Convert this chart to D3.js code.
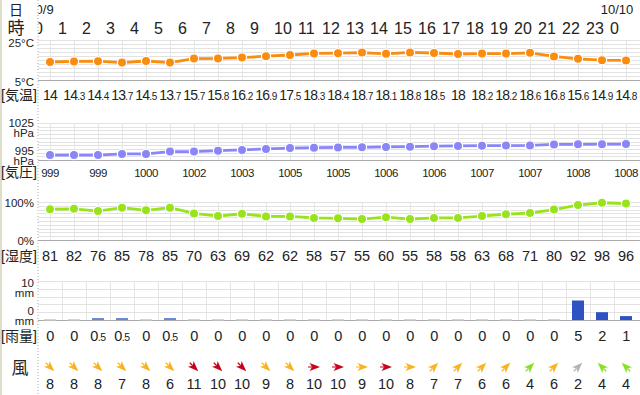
<!DOCTYPE html>
<html>
<head>
<meta charset="utf-8">
<script src="https://cdn.jsdelivr.net/npm/d3@7"></script>
<style>
body { margin: 0; background: #fff; }
text { font-family: "Liberation Sans", "Noto Sans CJK JP", sans-serif; fill: #222; }
</style>
</head>
<body>
<div id="chart"></div>
<script>
// hourly forecast, 10/9 0時 .. 10/10 0時
const hours = [0,1,2,3,4,5,6,7,8,9,10,11,12,13,14,15,16,17,18,19,20,21,22,23,0];
const dates = [{col: 0, label: "10/9"}, {col: 24, label: "10/10"}];
const temps = [14,14.3,14.4,13.7,14.5,13.7,15.7,15.8,16.2,16.9,17.5,18.3,18.4,18.7,18.1,18.8,18.5,18,18.2,18.2,18.6,16.8,15.6,14.9,14.8];
const pressures = [999,999,999,999.9,999.9,1001.8,1001.8,1002.6,1003.2,1004,1004.7,1005,1005.2,1005.3,1005.6,1005.8,1006.2,1006.4,1006.6,1006.7,1006.8,1007.6,1007.7,1007.8,1007.9];
const humidity = [81,82,76,85,78,85,70,63,69,62,62,58,57,55,60,55,58,58,63,68,71,80,92,98,96];
const rain = [0,0,0.5,0.5,0,0.5,0,0,0,0,0,0,0,0,0,0,0,0,0,0,0,0,5,2,1];
const windSpeed = [8,8,8,7,8,6,11,10,10,9,8,10,10,9,10,8,7,7,6,6,4,6,2,4,4];
const windFrom = ["北西","北西","北西","北西","北西","北西","北西","北西","北西","北西","北西",
                  "西","西","西","西","西",
                  "南西","南西","南西","南西","南西","南西","南西","南東","南東"];

const W = 640, H = 395;
const left = 38;

const svg = d3.select("#chart").append("svg")
  .attr("width", W).attr("height", H);

// scales
const x = d3.scaleLinear().domain([0, 24]).range([50, 626]);
const step = x(1) - x(0);

const yT = d3.scaleLinear().domain([5, 25]).range([80, 40]);
const yP = d3.scaleLinear().domain([995, 1025]).range([160, 123]);
const yH = d3.scaleLinear().domain([0, 100]).range([240, 202]);
const yR = d3.scaleLinear().domain([0, 10]).range([320, 281]);

// left strip + dotted separator
svg.append("rect").attr("x", 0).attr("y", 0).attr("width", 2).attr("height", H).attr("fill", "#deddc9");
svg.append("line")
  .attr("x1", left).attr("x2", left).attr("y1", 0).attr("y2", H)
  .attr("stroke", "#aaa").attr("stroke-dasharray", "1,2");

svg.append("clipPath").attr("id", "plotclip")
  .append("rect").attr("x", left + 0.5).attr("y", 0).attr("width", W - left).attr("height", H);

// header
svg.append("text").attr("x", 16).attr("y", 15).attr("text-anchor", "middle")
  .style("font-size", "14px").text("日");
svg.append("text").attr("x", 16).attr("y", 34).attr("text-anchor", "middle")
  .style("font-size", "17px").text("時");

const head = svg.append("g").attr("clip-path", "url(#plotclip)");
head.selectAll(".date").data(dates).enter().append("text")
  .attr("x", d => x(d.col) - 9).attr("y", 14)
  .attr("text-anchor", "middle").style("font-size", "13px")
  .text(d => d.label);
head.selectAll(".hour").data(hours).enter().append("text")
  .attr("x", (d, i) => x(i) - 16).attr("y", 34)
  .style("font-size", "16px")
  .text(d => d);

// grid for a line panel
function panel(y, tickVals, vertical) {
  const g = svg.append("g");
  const [b, t] = y.range();
  g.selectAll(".v").data(vertical).enter().append("line")
    .attr("x1", d => Math.round(d) + 0.5).attr("x2", d => Math.round(d) + 0.5)
    .attr("y1", t).attr("y2", b)
    .attr("stroke", "#e6e6e6");
  g.selectAll(".h").data(tickVals.slice().reverse()).enter().append("line")
    .attr("x1", left).attr("x2", W)
    .attr("y1", d => Math.round(y(d)) + 0.5).attr("y2", d => Math.round(y(d)) + 0.5)
    .attr("stroke", d => d === tickVals[0] ? "#aaa" : "#e2e2e2");
  return g;
}

function axisLabel(lines, yc) {
  const t = svg.append("text").attr("text-anchor", "end").style("font-size", "11.5px");
  lines.forEach((s, k) => {
    t.append("tspan").attr("x", 34).attr("y", yc + 4 + k * 10).text(s);
  });
}

function rowLabel(s, yc) {
  svg.append("text").attr("x", 19).attr("y", yc + 5).attr("text-anchor", "middle")
    .style("font-size", "14px").text(s);
}

// number with small decimal part
function splitNum(sel, big, small) {
  sel.each(function(v) {
    const s = String(v).split(".");
    const t = d3.select(this).style("font-size", big + "px").style("letter-spacing", "-0.7px");
    t.append("tspan").text(s[0]);
    if (s[1]) t.append("tspan").style("font-size", small + "px").style("letter-spacing", "-0.4px").text("." + s[1]);
  });
}

function series(vals, y, color) {
  const line = d3.line().x((d, i) => x(i)).y(d => y(d));
  svg.append("path").datum(vals)
    .attr("d", line).attr("fill", "none")
    .attr("stroke", color).attr("stroke-width", 2.8);
  svg.append("g").selectAll("circle").data(vals).enter().append("circle")
    .attr("cx", (d, i) => x(i)).attr("cy", d => y(d)).attr("r", 4.6)
    .attr("fill", color).attr("stroke", "#fff").attr("stroke-width", 1.2);
}

const centers = d3.range(25).map(i => x(i));

// temperature
panel(yT, d3.range(5, 26, 2), centers);
series(temps, yT, "#fb8c0e");
axisLabel(["25°C"], 43);
axisLabel(["5°C"], 82);
rowLabel("[気温]", 95);
svg.append("g").selectAll("text").data(temps).enter().append("text")
  .attr("x", (d, i) => x(i)).attr("y", 100).attr("text-anchor", "middle")
  .call(splitNum, 14, 10);

// pressure
panel(yP, d3.range(995, 1026, 3), centers);
series(pressures, yP, "#8a86f8");
axisLabel(["1025", "hPa"], 123);
axisLabel(["995", "hPa"], 151);
rowLabel("[気圧]", 172);
svg.append("g").selectAll("text").data(pressures).enter()
  .filter((d, i) => i % 2 === 0)
  .append("text")
  .attr("x", (d, i) => x(i * 2)).attr("y", 177).attr("text-anchor", "middle")
  .style("font-size", "11.5px").style("letter-spacing", "-0.5px")
  .text(d => Math.round(d));

// humidity
panel(yH, d3.range(0, 101, 10), centers);
series(humidity, yH, "#98e41c");
axisLabel(["100%"], 203);
axisLabel(["0%"], 241);
rowLabel("[湿度]", 256);
svg.append("g").selectAll("text").data(humidity).enter().append("text")
  .attr("x", (d, i) => x(i)).attr("y", 261).attr("text-anchor", "middle")
  .style("font-size", "14.5px").text(d => d);

// rain
const bounds = d3.range(1, 25).map(i => x(i) - step / 2);
panel(yR, d3.range(0, 11, 2), bounds);
svg.append("g").selectAll("rect").data(rain).enter().append("rect")
  .attr("x", (d, i) => x(i) - 6).attr("width", 12)
  .attr("y", d => d > 0 ? yR(d) : yR(0) - 1)
  .attr("height", d => d > 0 ? yR(0) - yR(d) : 1.5)
  .attr("fill", d => d > 0 ? "#2d52c4" : "#d4d4d4")
  .attr("fill-opacity", d => d > 0 && d < 1 ? 0.7 : 1);
axisLabel(["10", "mm"], 283);
axisLabel(["0", "mm"], 311);
rowLabel("[雨量]", 336);
svg.append("g").selectAll("text").data(rain).enter().append("text")
  .attr("x", (d, i) => x(i)).attr("y", 341).attr("text-anchor", "middle")
  .call(splitNum, 14.5, 10.5);

// wind
const compass = {"北": 0, "北東": 45, "東": 90, "南東": 135, "南": 180, "南西": 225, "西": 270, "北西": 315};
const windColor = v => v >= 10 ? "#c8001a" : v >= 5 ? "#f8b41c" : v >= 3 ? "#86e024" : "#b4b4b4";
svg.append("text").attr("x", 20).attr("y", 374).attr("text-anchor", "middle")
  .style("font-size", "17px").text("風");
svg.append("g").selectAll("g").data(windFrom).enter().append("g")
  .attr("transform", (d, i) => `translate(${x(i)},367) rotate(${compass[d] + 180})`)
  .append("path")
  .attr("d", "M0,-6 L4,4.5 L0,1.8 L-4,4.5 Z M-0.6,1.8 L-0.6,6 L0.6,6 L0.6,1.8 Z")
  .attr("fill", (d, i) => windColor(windSpeed[i]));
svg.append("g").selectAll("text").data(windSpeed).enter().append("text")
  .attr("x", (d, i) => x(i)).attr("y", 389).attr("text-anchor", "middle")
  .style("font-size", "14.5px").text(d => d);
</script>
</body>
</html>
